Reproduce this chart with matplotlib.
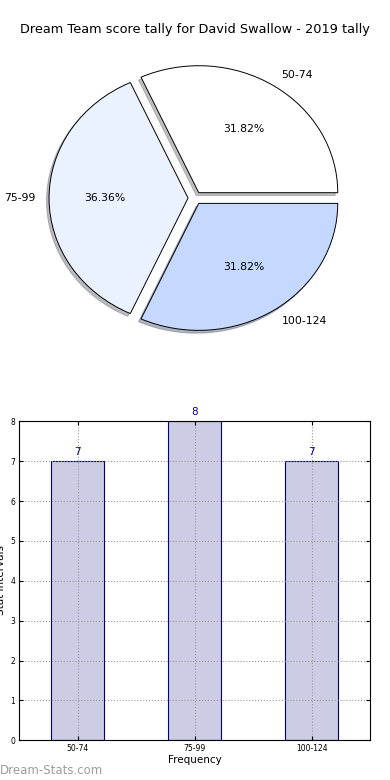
import matplotlib
matplotlib.use("Agg")
import matplotlib.pyplot as plt

title = "Dream Team score tally for David Swallow - 2019 tally"
categories = ["50-74", "75-99", "100-124"]
counts = [7, 8, 7]
pie_colors = ["#FFFFFF", "#EAF1FF", "#C5D8FF"]

fig = plt.figure(figsize=(3.9, 7.8), dpi=100)
fig.patch.set_facecolor("white")

fig.text(0.5, 1 - 30 / 780, title, ha="center", va="center", fontsize=9.3)

# Pie
axp = fig.add_axes([0.0545, 0.5426, 0.891, 0.407])
wedges, texts, autotexts = axp.pie(
    counts, labels=categories, colors=pie_colors, explode=[0.05] * 3,
    autopct="%.2f%%", shadow={"ox": -0.013, "oy": -0.016, "shade": 0.5},
    startangle=0, counterclock=True,
    wedgeprops=dict(edgecolor="black", linewidth=0.7),
    textprops=dict(fontsize=7.8), labeldistance=1.1, pctdistance=0.6)
axp.set_aspect("auto")
axp.set_xlim(-1.25, 1.25)
axp.set_ylim(-1.25, 1.25)
axp.axis("off")

# Bars
axb = fig.add_axes([19.3 / 390, 1 - 740.3 / 780, 351 / 390, 319 / 780])
x = list(range(len(categories)))
bars = axb.bar(x, counts, width=0.45, color="#CCCCE5", edgecolor="navy", linewidth=0.8, zorder=1)
for xi, v in zip(x, counts):
    axb.text(xi, v + 0.1, str(v), ha="center", va="bottom", color="navy", fontsize=7.5)
axb.set_xlim(-0.5, 2.5)
axb.set_ylim(0, 8)
axb.set_xticks(x)
axb.set_xticklabels(categories)
axb.set_yticks(range(0, 9))
axb.tick_params(direction="in", top=True, right=True, labelsize=5.5, length=3, pad=3)
axb.set_axisbelow(False)
axb.grid(True, linestyle=":", color="#999999", linewidth=0.8, zorder=3)
axb.set_xlabel("Frequency", fontsize=7.5, labelpad=1)
for s in axb.spines.values():
    s.set_linewidth(0.8)
    s.set_zorder(4)

fig.text(1.5 / 390, 1 - 580 / 780, "Stat Intervals", rotation=90, ha="center", va="center", fontsize=7.5)

fig.text(0.0, 1 - 770 / 780, "Dream-Stats.com", ha="left", va="center",
         fontsize=8.5, color="#9C9C9C")

fig.savefig("out.png", dpi=100)
